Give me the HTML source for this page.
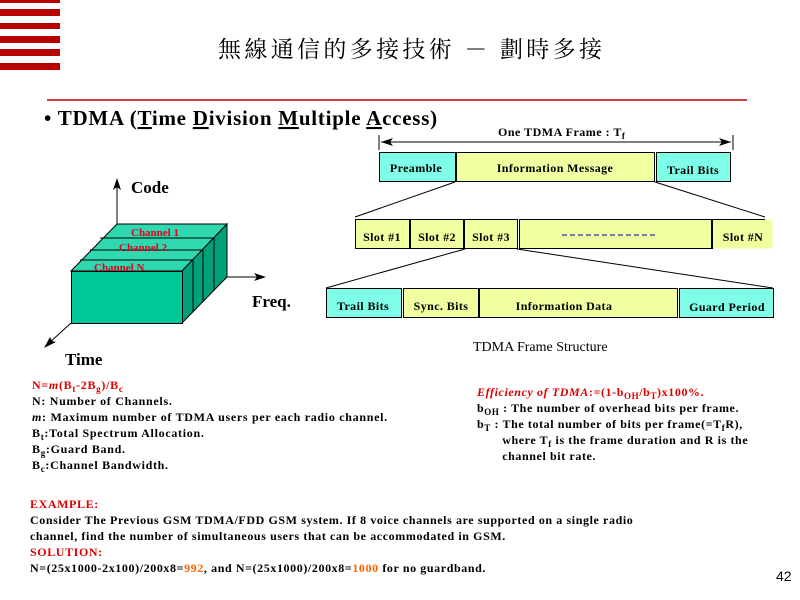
<!DOCTYPE html>
<html><head><meta charset="utf-8"><style>
body{margin:0;background:#fff;width:800px;height:600px;overflow:hidden;position:relative;font-family:"Liberation Serif","Noto Serif CJK SC",serif}
.t{position:absolute;white-space:nowrap;font-weight:bold;font-size:12px;line-height:16px;color:#000;letter-spacing:0.6px}
.r{color:#e00000}.o{color:#ff6000}
sub{font-size:9px;vertical-align:-3px;line-height:0}
</style></head><body>
<svg width="800" height="600" style="position:absolute;left:0;top:0" font-family="Liberation Serif, serif" font-weight="bold">
<g fill="#b80000">
<rect x="0" y="0" width="60" height="3"/><rect x="0" y="9" width="60" height="7"/><rect x="0" y="23" width="60" height="6"/><rect x="0" y="36" width="60" height="7"/><rect x="0" y="49" width="60" height="7"/><rect x="0" y="63" width="60" height="7"/>
</g>
<line x1="47" y1="100" x2="747" y2="100" stroke="#c00000" stroke-width="1.5"/>
<g stroke="#000" fill="none">
<line x1="379" y1="135" x2="379" y2="150"/><line x1="733" y1="135" x2="733" y2="150"/>
<line x1="381" y1="142" x2="731" y2="142"/>
</g>
<path d="M381 142 L393 138 L390 142 L393 146Z M731 142 L719 138 L722 142 L719 146Z" fill="#000"/>
<text x="498" y="136" font-size="12" letter-spacing="0.5">One TDMA Frame : T<tspan font-size="9" dy="3">f</tspan></text>
<g stroke="#000" stroke-width="1">
<rect x="379.5" y="152.5" width="76" height="29" fill="#80ffe8"/>
<rect x="456.5" y="152.5" width="198" height="29" fill="#f0ffa0"/>
<rect x="656.5" y="152.5" width="74" height="29" fill="#80ffe8"/>
<line x1="455" y1="182" x2="355" y2="217"/><line x1="655" y1="182" x2="765" y2="217"/>
<rect x="355.5" y="219.5" width="54" height="29" fill="#f0ffa0"/>
<rect x="410.5" y="219.5" width="53" height="29" fill="#f0ffa0"/>
<rect x="464.5" y="219.5" width="53" height="29" fill="#f0ffa0"/>
<rect x="519.5" y="219.5" width="192" height="29" fill="#f0ffa0"/>
<rect x="712.5" y="219.5" width="60" height="29" fill="#f0ffa0" stroke="none"/>
<line x1="712.5" y1="219" x2="712.5" y2="249"/><line x1="712" y1="219.5" x2="765" y2="219.5"/>
<line x1="562" y1="235" x2="657" y2="235" stroke="#0000a0" stroke-dasharray="5,3"/>
<line x1="465" y1="249" x2="326" y2="288"/><line x1="517" y1="249" x2="773" y2="288"/>
<rect x="326.5" y="288.5" width="75" height="29" fill="#80ffe8"/>
<rect x="403.5" y="288.5" width="75" height="29" fill="#f0ffa0"/>
<rect x="479.5" y="288.5" width="198" height="29" fill="#f0ffa0"/>
<rect x="679.5" y="288.5" width="94" height="29" fill="#80ffe8"/>
</g>
<g font-size="12" text-anchor="middle" letter-spacing="0.4">
<text x="416" y="172">Preamble</text><text x="555" y="172">Information Message</text><text x="693" y="174">Trail Bits</text>
<text x="382" y="241">Slot #1</text><text x="437" y="241">Slot #2</text><text x="491" y="241">Slot #3</text><text x="743" y="241">Slot #N</text>
<text x="363" y="310">Trail Bits</text><text x="441" y="310">Sync. Bits</text><text x="564" y="310">Information Data</text><text x="727" y="311">Guard Period</text>
</g>
<text x="473" y="351" font-size="14" font-weight="normal">TDMA Frame Structure</text>
<g stroke="#000" stroke-width="1">
<line x1="117" y1="224" x2="117" y2="182"/>
<line x1="227" y1="277" x2="262" y2="277"/>
<line x1="71" y1="323" x2="48" y2="344"/>
<polygon points="71,271 117,224 227,224 182,271" fill="#30d8b0"/>
<polygon points="182,271 227,224 227,277 182,323" fill="#00a078"/>
<rect x="71.5" y="271.5" width="111" height="52" fill="#00c898"/>
<line x1="100" y1="238" x2="214" y2="238"/><line x1="90" y1="250" x2="203" y2="250"/><line x1="80" y1="260" x2="193" y2="260"/>
<line x1="193" y1="260" x2="193" y2="312"/><line x1="203" y1="250" x2="203" y2="301"/><line x1="214" y1="238" x2="214" y2="290"/>
</g>
<path d="M117 178 L113 190 L117 187 L121 190Z M266 277 L254 273 L257 277 L254 281Z M44 348 L56 342 L52 341 L50 337Z" fill="#000"/>
<g font-size="11" fill="#e00020"><text x="131" y="236">Channel 1</text><text x="119" y="251">Channel 2</text><text x="94" y="271">Channel N</text></g>
<g font-size="17"><text x="131" y="193">Code</text><text x="252" y="307">Freq.</text><text x="65" y="365">Time</text></g>
<text x="218" y="57" font-size="23" font-weight="normal" letter-spacing="3" font-family="Noto Serif CJK SC, serif" textLength="387">無線通信的多接技術 － 劃時多接</text>
<text x="44" y="125" font-size="21" letter-spacing="0.75">• TDMA (<tspan text-decoration="underline">T</tspan>ime <tspan text-decoration="underline">D</tspan>ivision <tspan text-decoration="underline">M</tspan>ultiple <tspan text-decoration="underline">A</tspan>ccess)</text>
<text x="776" y="581" font-size="14" font-weight="normal" font-family="Liberation Sans, sans-serif">42</text>
</svg>
<div class="t" style="left:32px;top:377px;letter-spacing:0.7px"><span class="r">N=<i>m</i>(B<sub>t</sub>-2B<sub>g</sub>)/B<sub>c</sub></span><br>N: Number of Channels.<br><i>m</i>: Maximum number of TDMA users per each radio channel.<br>B<sub>t</sub>:Total Spectrum Allocation.<br>B<sub>g</sub>:Guard Band.<br>B<sub>c</sub>:Channel Bandwidth.</div>
<div class="t" style="left:477px;top:384px"><span class="r"><i>Efficiency of TDMA</i>:=(1-b<sub>OH</sub>/b<sub>T</sub>)x100%.</span><br>b<sub>OH</sub> : The number of overhead bits per frame.<br>b<sub>T</sub> : The total number of bits per frame(=T<sub>f</sub>R),<br>&nbsp;&nbsp;&nbsp;&nbsp;&nbsp;&nbsp;&nbsp;where T<sub>f</sub> is the frame duration and R is the<br>&nbsp;&nbsp;&nbsp;&nbsp;&nbsp;&nbsp;&nbsp;channel bit rate.</div>
<div class="t" style="left:30px;top:496px;letter-spacing:0.6px"><span class="r">EXAMPLE:</span><br>Consider The Previous GSM TDMA/FDD GSM system. If 8 voice channels are supported on a single radio<br>channel, find the number of simultaneous users that can be accommodated in GSM.<br><span class="r">SOLUTION:</span><br>N=(25x1000-2x100)/200x8=<span class="o">992</span>, and N=(25x1000)/200x8=<span class="o">1000</span> for no guardband.</div>
</body></html>
